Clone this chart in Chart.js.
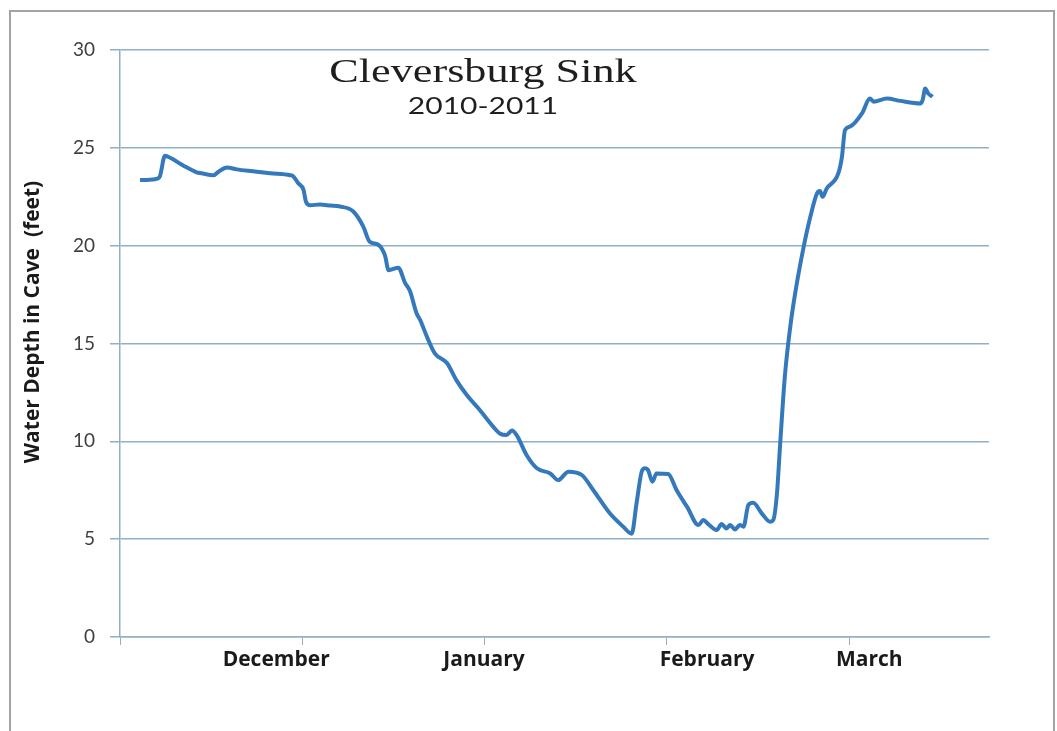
<!DOCTYPE html>
<html>
<head>
<meta charset="utf-8">
<script src="https://cdn.jsdelivr.net/npm/chart.js@4.4.1/dist/chart.umd.min.js"></script>
<style>
    html, body { margin: 0; padding: 0; background: #fff; overflow: hidden; }
    #wrap { position: relative; width: 1057px; height: 731px; }
    #frame { position: absolute; left: 9px; top: 10px; width: 1042px; height: 760px; border: 2px solid #a0a4a8; pointer-events: none; }
</style>
</head>
<body>
<div id="wrap">
    <canvas id="sink-chart" width="1057" height="731"></canvas>
    <div id="frame"></div>
</div>
<script>
// x position of each reading, in days from the start of the axis
const dayPos = [
    3.3, 5.8, 6.5, 7.4, 8.5, 10.4, 12.6, 13.4, 15.4, 16.2, 17.6, 19.2, 21.9, 24.7, 28.0, 28.5,
    29.3, 30.2, 30.6, 31.3, 32.9, 34.6, 36.2, 38.4, 40.0, 41.1, 42.5, 43.6, 44.2, 45.8, 46.9,
    47.7, 48.8, 49.4, 50.5, 51.8, 53.8, 55.4, 57.1, 59.2, 61.4, 62.5, 63.6, 64.5, 65.3, 66.9,
    68.6, 70.8, 72.1, 73.8, 76.0, 77.9, 80.6, 82.8, 84.2, 85.0, 85.9, 86.4, 86.9, 87.6, 88.3,
    90.2, 91.6, 93.3, 95.2, 96.0, 96.8, 98.2, 99.0, 99.8, 100.4, 101.2, 102.0, 102.6, 103.4,
    104.2, 105.6, 107.0, 107.5, 108.1, 108.6, 109.4, 110.3, 111.1, 112.5, 113.6, 114.7, 115.2,
    115.6, 116.3, 118.2, 118.8, 119.3, 120.1, 122.1, 123.4, 124.0, 126.2, 128.4, 131.7, 132.1,
    132.5, 133.0, 133.7
];
// water depth in feet
const depthFeet = [
    23.35, 23.4, 23.5, 24.6, 24.45, 24.1, 23.75, 23.7, 23.6, 23.78, 24.0, 23.9, 23.8, 23.7, 23.6, 23.55,
    23.2, 22.85, 22.25, 22.07, 22.1, 22.05, 22.0, 21.75, 21.0, 20.2, 20.05, 19.5, 18.75, 18.87, 18.1,
    17.7, 16.55, 16.2, 15.35, 14.5, 14.0, 13.1, 12.35, 11.6, 10.75, 10.4, 10.32, 10.55, 10.3, 9.3,
    8.62, 8.36, 8.02, 8.45, 8.28, 7.5, 6.32, 5.64, 5.28, 6.83, 8.5, 8.62, 8.53, 7.94, 8.36,
    8.33, 7.5, 6.66, 5.72, 5.98, 5.77, 5.47, 5.77, 5.55, 5.72, 5.5, 5.72, 5.64, 6.75,
    6.86, 6.32, 5.89, 5.98, 7.3, 9.7, 13.3, 15.86, 17.56, 19.94, 21.48, 22.67, 22.79,
    22.5, 22.92, 23.69, 24.54, 25.91, 26.08, 26.76, 27.52, 27.36, 27.52, 27.4, 27.27, 27.47,
    28.03, 27.78, 27.61
];

// month tick marks and where the month names sit
const monthTicks = [0, 30, 60, 90, 120];
const monthNames = ['December', 'January', 'February', 'March'];
const monthLabelPos = [25.7, 59.9, 96.6, 123.3];

const AXIS_MAX = 143;
const gridColor = '#8fb0c6';

// title, subtitle and the y axis title, drawn by hand so they can sit where the original has them
const titlePlugin = {
    id: 'insideTitle',
    afterDraw(chart) {
        const ctx = chart.ctx;
        ctx.save();
        ctx.fillStyle = '#1e1e1e';
        ctx.textAlign = 'center';
        ctx.font = '34px "Liberation Serif", "DejaVu Serif", serif';
        ctx.translate(483, 82);
        ctx.scale(1.3, 1);
        ctx.fillText('Cleversburg Sink', 0, 0);
        ctx.restore();

        ctx.save();
        ctx.fillStyle = '#1e1e1e';
        ctx.textAlign = 'center';
        ctx.font = '24px Lato, "Open Sans", sans-serif';
        ctx.translate(483, 114);
        ctx.scale(1.25, 1);
        ctx.fillText('2010-2011', 0, 0);
        ctx.restore();

        ctx.save();
        ctx.fillStyle = '#1a1a1a';
        ctx.textAlign = 'center';
        ctx.textBaseline = 'middle';
        ctx.font = 'bold 21px "Open Sans", Lato, sans-serif';
        ctx.translate(33, 322);
        ctx.rotate(-Math.PI / 2);
        ctx.fillText('Water Depth in Cave  (feet)', 0, 0);
        ctx.restore();
    }
};

const ctx = document.getElementById('sink-chart').getContext('2d');

new Chart(ctx, {
    type: 'line',
    data: {
        datasets: [{
            label: 'Water depth',
            data: dayPos.map((d, i) => ({ x: d, y: depthFeet[i] })),
            borderColor: '#3579bd',
            borderWidth: 4,
            pointRadius: 0,
            cubicInterpolationMode: 'monotone',
            xAxisID: 'x',
            yAxisID: 'y'
        }]
    },
    options: {
        responsive: false,
        animation: false,
        layout: { padding: { top: 50, right: 68, left: 0, bottom: 0 } },
        plugins: {
            legend: { display: false },
            tooltip: { enabled: false }
        },
        scales: {
            x: {
                type: 'linear',
                position: 'bottom',
                min: 0,
                max: AXIS_MAX,
                weight: 0,
                afterBuildTicks: axis => { axis.ticks = monthTicks.map(v => ({ value: v })); },
                afterFit: axis => { axis.height = 10; },
                ticks: { display: false },
                grid: { drawOnChartArea: false, drawTicks: true, tickLength: 8, color: gridColor },
                border: { color: gridColor, width: 1.5 }
            },
            months: {
                type: 'linear',
                position: 'bottom',
                min: 0,
                max: AXIS_MAX,
                weight: 1,
                afterBuildTicks: axis => { axis.ticks = monthLabelPos.map(v => ({ value: v })); },
                afterFit: axis => { axis.height = 84; },
                ticks: {
                    autoSkip: false,
                    maxRotation: 0,
                    padding: -8,
                    color: '#1a1a1a',
                    font: { family: '"Open Sans", Lato, sans-serif', size: 21, weight: 'bold' },
                    callback: (v, i) => monthNames[i]
                },
                grid: { display: false },
                border: { display: false }
            },
            y: {
                min: 0,
                max: 30,
                afterFit: axis => { axis.width = 120; },
                ticks: {
                    stepSize: 5,
                    padding: 15,
                    color: '#404040',
                    font: { family: 'Lato, "Open Sans", sans-serif', size: 19 }
                },
                grid: { color: gridColor, lineWidth: 1.5, tickLength: 10 },
                border: { color: gridColor, width: 1.5 }
            }
        }
    },
    plugins: [titlePlugin]
});
</script>
</body>
</html>
